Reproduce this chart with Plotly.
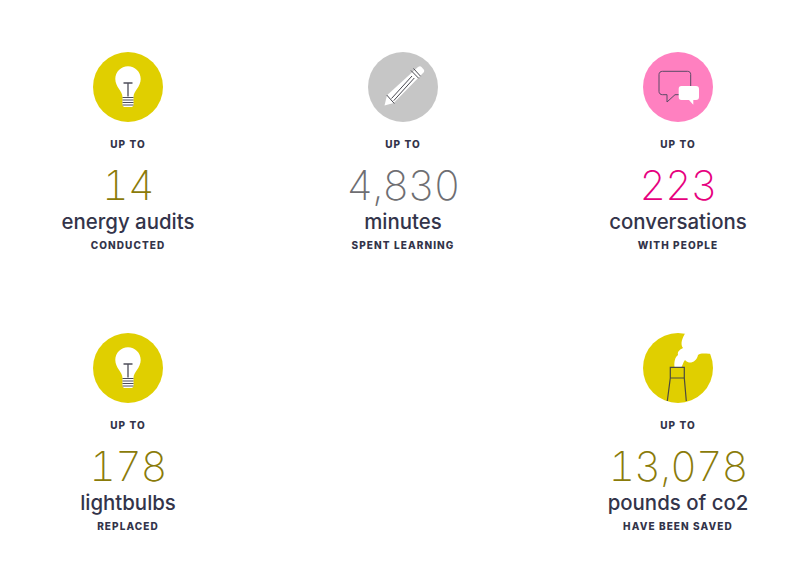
import plotly.graph_objects as go

# stat tiles, left to right then top to bottom
top_labels = ["UP TO", "UP TO", "UP TO", "UP TO", "UP TO"]
values = ["14", "4,830", "223", "178", "13,078"]
units = ["energy audits", "minutes", "conversations", "lightbulbs", "pounds of co2"]
sub_labels = ["CONDUCTED", "SPENT LEARNING", "WITH PEOPLE", "REPLACED", "HAVE BEEN SAVED"]
icons = ["bulb", "pencil", "chat", "bulb", "smoke"]
circle_colors = ["#e0cf00", "#c6c6c6", "#ff80c0", "#e0cf00", "#e0cf00"]
value_colors = ["#8a7b0a", "#6e6e72", "#e6007e", "#8a7b0a", "#8a7b0a"]
columns = [0, 1, 2, 0, 2]
rows = [0, 0, 0, 1, 1]

DARK = "#33344a"
COL_X = [128, 403, 678]
ROW_Y = [87, 368]

cx = [COL_X[c] for c in columns]
cy = [ROW_Y[r] for r in rows]


def text_trace(labels, dy, size, weight, color, family="Inter", dx=0):
    return go.Scatter(
        x=[x + dx for x in cx],
        y=[y + dy for y in cy],
        mode="text",
        text=labels,
        textposition="middle center",
        textfont=dict(family=family, size=size, weight=weight, color=color),
        hoverinfo="skip",
    )


fig = go.Figure()

# circles behind the icons
fig.add_trace(go.Scatter(
    x=cx, y=cy, mode="markers",
    marker=dict(size=70, color=circle_colors, line=dict(width=0)),
    hoverinfo="skip",
))
fig.add_trace(text_trace(top_labels, 58.7, 10, 800, DARK))
fig.add_trace(text_trace(values, 103, 41, 200, value_colors))
fig.add_trace(text_trace(units, 137, 20.4, 500, DARK))
fig.add_trace(text_trace(sub_labels, 159, 10, 800, DARK))


def shift(path, ox, oy):
    # path tokens are relative to the circle centre, move them to the page
    out = []
    is_x = True
    for tok in path.split():
        if tok.isalpha():
            out.append(tok)
            is_x = True
        else:
            out.append(str(float(tok) + (ox if is_x else oy)))
            is_x = not is_x
    return " ".join(out)


def draw(path, ox, oy, fill=None, line=None, width=0):
    fig.add_shape(
        type="path", path=shift(path, ox, oy), xref="x", yref="y",
        fillcolor=fill if fill else "rgba(0,0,0,0)",
        line=dict(color=line if line else "rgba(0,0,0,0)", width=width),
    )


def draw_bulb(ox, oy):
    draw("M -5.5 10 C -5.5 4 -12.7 0 -12.7 -8 C -12.7 -15 -7 -20.7 0 -20.7 "
         "C 7 -20.7 12.7 -15 12.7 -8 C 12.7 0 5.5 4 5.5 10 L 5.5 18 "
         "C 5.5 19.5 4 20 3 20 L -3 20 C -4 20 -5.5 19.5 -5.5 18 Z", ox, oy, fill="white")
    draw("M -4.5 -4 L 4.5 -4 M 0 -4 L 0 9.5", ox, oy, line="#4d4d5a", width=1.3)
    for ty in ["10.5", "13", "15.5", "18"]:
        draw(f"M -5.5 {ty} L 5.5 {ty}", ox, oy, line="#4d4d5a", width=1)


def draw_pencil(ox, oy):
    draw("M -18.5 18.5 L -16 8.3 L 15 -20 C 16.5 -21 17.5 -21 18.5 -20 L 20.7 -17.5 "
         "C 21.5 -16.5 21.3 -15.5 20.5 -14.5 L -9.3 16 Z", ox, oy, fill="white")
    draw("M -16.3 8 L -8.7 16.5", ox, oy, line="#4a4a52", width=1)
    draw("M -11.5 11.5 L 9 -11 M -9.3 13.7 L 11.3 -9", ox, oy, line="#4a4a52", width=1)
    draw("M 8 -16.5 L 15.7 -8.7 M 10.5 -18.5 L 17.5 -10.8", ox, oy, line="#4a4a52", width=1)


def draw_chat(ox, oy):
    draw("M -15.5 -15.7 L 9.5 -15.7 C 11.5 -15.7 12.7 -14.5 12.7 -12.5 L 12.7 4.5 "
         "C 12.7 6.5 11.5 7.7 9.5 7.7 L -3 7.7 L -11 15 L -11 7.7 L -15.5 7.7 "
         "C -17.5 7.7 -19 6.5 -19 4.5 L -19 -12.5 C -19 -14.5 -17.5 -15.7 -15.5 -15.7 Z",
         ox, oy, line="#5b4a66", width=1)
    draw("M 3.5 -1 L 18 -1 C 20 -1 21 0 21 2 L 21 10 C 21 12 20 13 18 13 L 15.3 13 "
         "L 15.3 17.7 L 11 13 L 3.5 13 C 1.5 13 0.7 12 0.7 10 L 0.7 2 C 0.7 0 1.5 -1 3.5 -1 Z",
         ox, oy, fill="white")


def draw_smoke(ox, oy):
    draw("M -3.5 -1 C -4 -6 -3 -11 0 -13 C -1 -17 3 -19 5 -20 C 2 -24 4 -30 8 -36 "
         "L 24 -36 L 37 -15 C 30 -13 24 -16 20 -13 C 19 -8 15 -5 11 -5.5 "
         "C 9 -6 8 -7 7 -8 C 5 -6 5 -3 3.5 -1 Z",
         ox, oy, fill="white")
    draw("M -7.7 10 L -7.7 -0.7 L 6.3 -0.7 L 6.3 10 M -7.7 10 L 6.3 10 "
         "M -7.7 10 L -10.7 33 M 6.3 10 L 8.3 33", ox, oy, line="#4a4a40", width=1.2)


ICON_DRAW = {"bulb": draw_bulb, "pencil": draw_pencil, "chat": draw_chat, "smoke": draw_smoke}
for name, x0, y0 in zip(icons, cx, cy):
    ICON_DRAW[name](x0, y0)

fig.update_layout(
    width=800, height=586,
    margin=dict(l=0, r=0, t=0, b=0),
    paper_bgcolor="white", plot_bgcolor="white",
    showlegend=False,
    xaxis=dict(range=[0, 800], visible=False, fixedrange=True),
    yaxis=dict(range=[586, 0], visible=False, fixedrange=True),
)

# page margin off, tracked-out caps and wide thin numerals
page_js = """
document.body.style.margin = '0';
var gd = document.getElementsByClassName('plotly-graph-div')[0];
gd.querySelectorAll('.textpoint text').forEach(function (t) {
  var s = parseFloat(t.style.fontSize);
  if (s < 12) { t.style.letterSpacing = '1.1px'; }
  else if (s > 30) {
    t.style.letterSpacing = '-0.8px';
    t.style.fontVariantNumeric = 'tabular-nums';
  }
});
"""
fig.write_html("out.html", post_script=page_js, config=dict(displayModeBar=False))
